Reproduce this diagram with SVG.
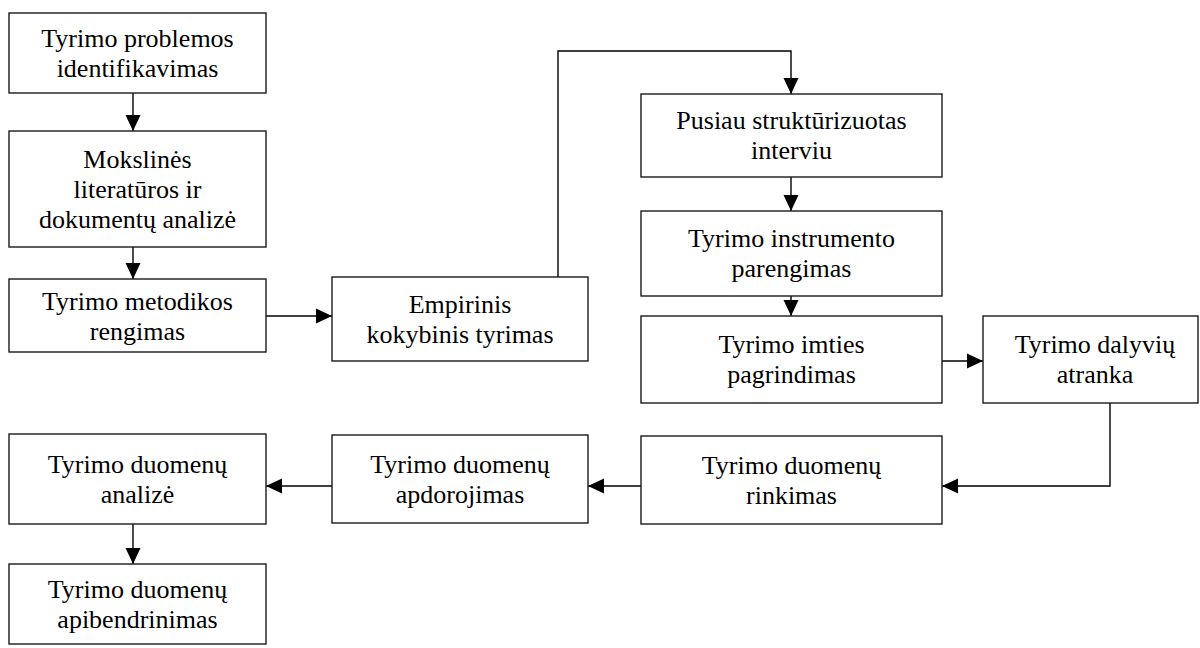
<svg xmlns="http://www.w3.org/2000/svg" width="1200" height="648" viewBox="0 0 1200 648">
<style>
.box{fill:#fff;stroke:#1a1a1a;stroke-width:1.4}
.lbl{font-family:"Liberation Serif","Times New Roman",serif;font-size:26px;fill:#000;text-anchor:middle}
.con{fill:none;stroke:#000;stroke-width:1.4}
</style>
<defs>
<marker id="ah" markerUnits="userSpaceOnUse" markerWidth="16" markerHeight="16" viewBox="0 0 16 16" refX="16" refY="8" orient="auto">
<path d="M0,0.5 L16,8 L0,15.5 Z" fill="#000"/>
</marker>
</defs>
<rect width="1200" height="648" fill="#fff"/>
<g id="connectors">
<path class="con" d="M133,93 V131" marker-end="url(#ah)"/>
<path class="con" d="M133,247 V279" marker-end="url(#ah)"/>
<path class="con" d="M266,316 H332" marker-end="url(#ah)"/>
<path class="con" d="M558,277 V51 H791 V94" marker-end="url(#ah)"/>
<path class="con" d="M791,177 V211" marker-end="url(#ah)"/>
<path class="con" d="M791,296 V316" marker-end="url(#ah)"/>
<path class="con" d="M942,361 H983" marker-end="url(#ah)"/>
<path class="con" d="M1110,403 V486 H942" marker-end="url(#ah)"/>
<path class="con" d="M641,486 H588" marker-end="url(#ah)"/>
<path class="con" d="M332,486 H266" marker-end="url(#ah)"/>
<path class="con" d="M133,524 V564" marker-end="url(#ah)"/>
</g>
<g id="n1"><rect class="box" x="9" y="13" width="257" height="80"/><text class="lbl" x="137.5" y="47">Tyrimo problemos</text><text class="lbl" x="137.5" y="77">identifikavimas</text></g>
<g id="n2"><rect class="box" x="9" y="131" width="257" height="116"/><text class="lbl" x="137.5" y="168">Mokslinės</text><text class="lbl" x="137.5" y="198">literatūros ir</text><text class="lbl" x="137.5" y="228">dokumentų analizė</text></g>
<g id="n3"><rect class="box" x="9" y="279" width="257" height="73"/><text class="lbl" x="137.5" y="309.5">Tyrimo metodikos</text><text class="lbl" x="137.5" y="339.5">rengimas</text></g>
<g id="n4"><rect class="box" x="332" y="277" width="256" height="84"/><text class="lbl" x="460" y="313">Empirinis</text><text class="lbl" x="460" y="343">kokybinis tyrimas</text></g>
<g id="n5"><rect class="box" x="641" y="94" width="301" height="83"/><text class="lbl" x="791.5" y="129">Pusiau struktūrizuotas</text><text class="lbl" x="791.5" y="159">interviu</text></g>
<g id="n6"><rect class="box" x="641" y="211" width="301" height="85"/><text class="lbl" x="791.5" y="247">Tyrimo instrumento</text><text class="lbl" x="791.5" y="277">parengimas</text></g>
<g id="n7"><rect class="box" x="641" y="316" width="301" height="87"/><text class="lbl" x="791.5" y="353">Tyrimo imties</text><text class="lbl" x="791.5" y="383">pagrindimas</text></g>
<g id="n8"><rect class="box" x="983" y="316" width="215" height="87"/><text class="lbl" x="1095" y="353">Tyrimo dalyvių</text><text class="lbl" x="1095" y="383">atranka</text></g>
<g id="n9"><rect class="box" x="641" y="436" width="301" height="88"/><text class="lbl" x="791.5" y="474">Tyrimo duomenų</text><text class="lbl" x="791.5" y="504">rinkimas</text></g>
<g id="n10"><rect class="box" x="332" y="435" width="256" height="88"/><text class="lbl" x="460" y="473">Tyrimo duomenų</text><text class="lbl" x="460" y="503">apdorojimas</text></g>
<g id="n11"><rect class="box" x="9" y="434" width="257" height="90"/><text class="lbl" x="137.5" y="473">Tyrimo duomenų</text><text class="lbl" x="137.5" y="503">analizė</text></g>
<g id="n12"><rect class="box" x="9" y="564" width="257" height="80"/><text class="lbl" x="137.5" y="598">Tyrimo duomenų</text><text class="lbl" x="137.5" y="628">apibendrinimas</text></g>
</svg>
